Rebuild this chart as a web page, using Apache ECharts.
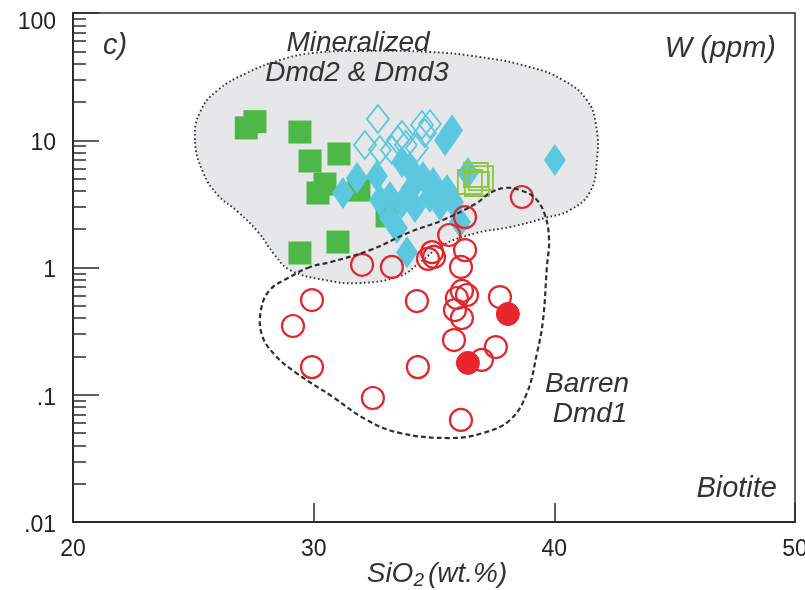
<!DOCTYPE html>
<html>
<head>
<meta charset="utf-8">
<script src="https://cdn.jsdelivr.net/npm/echarts/dist/echarts.min.js"></script>
<style>
  html, body { margin: 0; padding: 0; background: #fff; }
  #chart { width: 805px; height: 590px; }
</style>
</head>
<body>
<div id="chart"></div>
<script>
// Biotite W (ppm) versus SiO2 (wt.%)

// Dmd2 biotite, filled squares [SiO2, W]
const dmd2Filled = [
  [27.2, 12.5], [27.56, 14.0], [29.43, 11.6], [29.85, 6.87], [31.05, 7.8],
  [30.47, 4.53], [30.18, 3.85], [31.88, 4.06], [33.05, 2.54], [31.01, 1.585],
  [29.43, 1.30]
];
// Dmd2 biotite, open squares
const dmd2Open = [
  [36.49, 4.70], [36.74, 5.33], [36.95, 5.04], [36.78, 4.53]
];
// Dmd3 biotite, open diamonds
const dmd3Open = [
  [32.67, 14.7], [32.13, 9.18], [32.75, 8.38], [33.50, 10.0], [33.83, 9.18],
  [34.50, 13.2], [34.83, 13.4], [34.62, 11.4], [34.29, 8.69], [33.25, 8.38],
  [33.67, 11.0]
];
// Dmd3 biotite, filled diamonds
const dmd3Filled = [
  [31.22, 3.85], [31.80, 5.05], [32.63, 5.24], [33.17, 3.58], [33.17, 2.45],
  [33.67, 6.75], [34.00, 6.05], [33.67, 3.21], [34.08, 4.21], [34.54, 5.14],
  [34.96, 4.61], [34.83, 3.58], [35.54, 4.06], [35.79, 3.27], [36.08, 2.28],
  [36.41, 5.53], [33.88, 1.32], [33.46, 2.04], [34.21, 2.99], [35.46, 10.0],
  [35.75, 12.0], [40.02, 7.0], [35.25, 3.10], [32.75, 3.39]
];
// Dmd1 biotite, open circles
const dmd1Open = [
  [38.65, 3.58], [36.29, 2.49], [35.63, 1.80], [34.92, 1.32], [35.00, 1.21],
  [34.75, 1.17], [36.29, 1.37], [36.12, 1.01], [32.01, 1.05], [33.25, 1.01],
  [29.93, 0.555], [29.14, 0.347], [34.29, 0.545], [36.16, 0.654], [36.37, 0.608],
  [35.95, 0.576], [35.87, 0.463], [36.16, 0.401], [37.74, 0.586], [35.83, 0.269],
  [37.57, 0.237], [36.99, 0.188], [29.93, 0.165], [34.33, 0.165], [32.46, 0.0943],
  [36.12, 0.0634]
];
// Dmd1 biotite, filled circles
const dmd1Filled = [
  [38.07, 0.431], [36.41, 0.178]
];

// Field outlines, vertices in [SiO2, W]
const mineralizedField = [
  [25.07, 10.05], [25.28, 16.7], [26.02, 24.8], [27.23, 33.8], [28.60, 42.7],
  [29.97, 48.5], [32.05, 50.3], [34.83, 49.4], [36.91, 45.1], [38.99, 37.6],
  [40.36, 29.7], [41.35, 20.7], [41.73, 13.2], [41.77, 7.0], [41.48, 3.92],
  [40.65, 2.83], [39.61, 2.45], [38.16, 2.08], [36.78, 1.87], [35.37, 1.50],
  [34.42, 1.10], [33.59, 0.858], [31.92, 0.755], [30.47, 0.797], [29.02, 0.955],
  [28.39, 1.25], [27.69, 1.90], [26.86, 2.73], [26.02, 3.71], [25.40, 5.63]
];
const barrenField = [
  [29.85, 1.01], [29.02, 0.842], [28.18, 0.666], [27.81, 0.463], [27.85, 0.295],
  [28.39, 0.205], [29.22, 0.151], [30.80, 0.0960], [32.21, 0.0633], [33.59, 0.050],
  [35.66, 0.0457], [37.03, 0.050], [38.16, 0.0633], [38.86, 0.103], [39.28, 0.213],
  [39.53, 0.387], [39.69, 1.01], [39.78, 1.64], [39.61, 2.59], [39.19, 3.52],
  [38.57, 4.06], [37.95, 4.22], [37.32, 3.85], [36.78, 3.21], [35.37, 2.36],
  [34.00, 1.90], [32.34, 1.37], [30.68, 1.10]
];

// Axis ticks
const xTicks = [20, 30, 40, 50];
const yTickValues = [0.01, 0.1, 1, 10, 100];
const yTickLabels = ['.01', '.1', '1', '10', '100'];
const yDecades = [0.01, 0.1, 1, 10];
const minorSteps = [2, 3, 4, 5, 6, 7, 8, 9];
const yMinorValues = [];
yDecades.forEach(d => minorSteps.forEach(m => yMinorValues.push(+(d * m).toPrecision(3))));

const INK = '#2b2b2b';
const FONT = '"Liberation Sans", Arial, Helvetica, sans-serif';

function fieldSeries(points, style, z, smooth) {
  return {
    type: 'custom',
    coordinateSystem: 'cartesian2d',
    data: points,
    encode: { x: 0, y: 1 },
    z: z,
    silent: true,
    renderItem: function (params, api) {
      if (params.dataIndex !== 0) return null;
      return {
        type: 'polygon',
        shape: { points: points.map(p => api.coord(p)), smooth: smooth },
        style: style
      };
    }
  };
}

// y labels; the topmost one sits a little below its tick
function labelFor(v) {
  for (let i = 0; i < yTickValues.length; i++) {
    if (Math.abs(Math.log10(v) - Math.log10(yTickValues[i])) < 1e-6) {
      return (i === yTickValues.length - 1 ? '{top|' : '{std|') + yTickLabels[i] + '}';
    }
  }
  return '';
}

const labelText = { color: '#222', fontSize: 23, fontFamily: FONT };

const chart = echarts.init(document.getElementById('chart'), null, { renderer: 'canvas' });

const option = {
  animation: false,
  backgroundColor: '#ffffff',
  grid: {
    left: 73, right: 10, top: 13, bottom: 68,
    containLabel: false,
    outerBoundsMode: 'none',
    show: true, borderColor: INK, borderWidth: 1.5, backgroundColor: 'transparent'
  },
  xAxis: {
    type: 'value', min: 20, max: 50, interval: 10,
    axisLine: { show: true, lineStyle: { color: INK, width: 2 } },
    axisTick: { show: true, inside: true, length: 19, lineStyle: { color: INK, width: 1.5 }, customValues: xTicks },
    axisLabel: { color: '#222', fontSize: 23, fontFamily: FONT, margin: 16, customValues: xTicks },
    splitLine: { show: false }
  },
  yAxis: [
    {
      type: 'log', logBase: 10, min: 0.01, max: 100,
      axisLine: { show: true, lineStyle: { color: INK, width: 2 } },
      axisTick: { show: true, inside: true, length: 26, lineStyle: { color: INK, width: 1.5 }, customValues: yTickValues },
      axisLabel: {
        color: '#222', fontSize: 23, fontFamily: FONT, margin: 17,
        customValues: yTickValues,
        formatter: labelFor,
        rich: {
          std: Object.assign({ padding: [7, 0, 0, 0] }, labelText),
          top: Object.assign({ padding: [19, 0, 0, 0] }, labelText)
        }
      },
      splitLine: { show: false },
      minorTick: { show: false }
    },
    {
      type: 'log', logBase: 10, min: 0.01, max: 100,
      position: 'left', offset: 0,
      axisLine: { show: false },
      axisTick: { show: true, inside: true, length: 13, lineStyle: { color: INK, width: 1.5 }, customValues: yMinorValues },
      axisLabel: { show: false },
      splitLine: { show: false }
    }
  ],
  series: [
    fieldSeries(mineralizedField, {
      fill: '#e6e7e9', stroke: '#333', lineWidth: 1.9, lineDash: [1.6, 2.6]
    }, 1, 0.45),
    {
      name: 'Dmd2', type: 'scatter', data: dmd2Filled, z: 3,
      symbol: 'rect', symbolSize: 23,
      itemStyle: { color: '#4db848', opacity: 1 }
    },
    {
      name: 'Dmd3', type: 'scatter', data: dmd3Open, z: 3,
      symbol: 'diamond', symbolSize: [22, 28],
      itemStyle: { color: 'transparent', borderColor: '#5bc8df', borderWidth: 1.8, opacity: 1 }
    },
    {
      name: 'Dmd3 filled', type: 'scatter', data: dmd3Filled, z: 3,
      symbol: 'diamond', symbolSize: [22, 32],
      itemStyle: { color: '#5bc8df', opacity: 1 }
    },
    {
      name: 'Dmd2 open', type: 'scatter', data: dmd2Open, z: 3,
      symbol: 'rect', symbolSize: 24,
      itemStyle: { color: 'transparent', borderColor: '#8dc63f', borderWidth: 1.8, opacity: 1 }
    },
    {
      name: 'Dmd1', type: 'scatter', data: dmd1Open, z: 3,
      symbol: 'circle', symbolSize: 22,
      itemStyle: { color: 'transparent', borderColor: '#e3262b', borderWidth: 2.2, opacity: 1 }
    },
    {
      name: 'Dmd1 filled', type: 'scatter', data: dmd1Filled, z: 3,
      symbol: 'circle', symbolSize: 23,
      itemStyle: { color: '#e8262b', borderColor: '#e3262b', borderWidth: 1, opacity: 1 }
    },
    fieldSeries(barrenField, {
      fill: 'none', stroke: '#2f2f2f', lineWidth: 2.2, lineDash: [5, 3]
    }, 5, 0.4)
  ],
  graphic: [
    {
      type: 'text', x: 437, y: 574, z: 10,
      style: {
        text: '{i|SiO}{s|2}{i|(wt.%)}',
        align: 'center', verticalAlign: 'middle',
        rich: {
          i: { fontSize: 28, fontStyle: 'italic', fontFamily: FONT, fill: '#333', lineHeight: 34 },
          s: { fontSize: 19, fontStyle: 'italic', fontFamily: FONT, fill: '#333', padding: [14, 4, 0, 0], lineHeight: 34 }
        }
      }
    },
    { type: 'text', x: 103, y: 46, z: 10, style: { text: 'c)', fontSize: 29, fontStyle: 'italic', fontFamily: FONT, fill: '#333', align: 'left', verticalAlign: 'middle' } },
    { type: 'text', x: 776, y: 49, z: 10, style: { text: 'W (ppm)', fontSize: 29, fontStyle: 'italic', fontFamily: FONT, fill: '#333', align: 'right', verticalAlign: 'middle' } },
    { type: 'text', x: 358, y: 43, z: 10, style: { text: 'Mineralized', fontSize: 28, fontStyle: 'italic', fontFamily: FONT, fill: '#333', align: 'center', verticalAlign: 'middle' } },
    { type: 'text', x: 357, y: 73, z: 10, style: { text: 'Dmd2 & Dmd3', fontSize: 28, fontStyle: 'italic', fontFamily: FONT, fill: '#333', align: 'center', verticalAlign: 'middle' } },
    { type: 'text', x: 587, y: 384, z: 10, style: { text: 'Barren', fontSize: 28, fontStyle: 'italic', fontFamily: FONT, fill: '#333', align: 'center', verticalAlign: 'middle' } },
    { type: 'text', x: 590, y: 414, z: 10, style: { text: 'Dmd1', fontSize: 28, fontStyle: 'italic', fontFamily: FONT, fill: '#333', align: 'center', verticalAlign: 'middle' } },
    { type: 'text', x: 777, y: 489, z: 10, style: { text: 'Biotite', fontSize: 29, fontStyle: 'italic', fontFamily: FONT, fill: '#333', align: 'right', verticalAlign: 'middle' } }
  ]
};

chart.setOption(option);
</script>
</body>
</html>
